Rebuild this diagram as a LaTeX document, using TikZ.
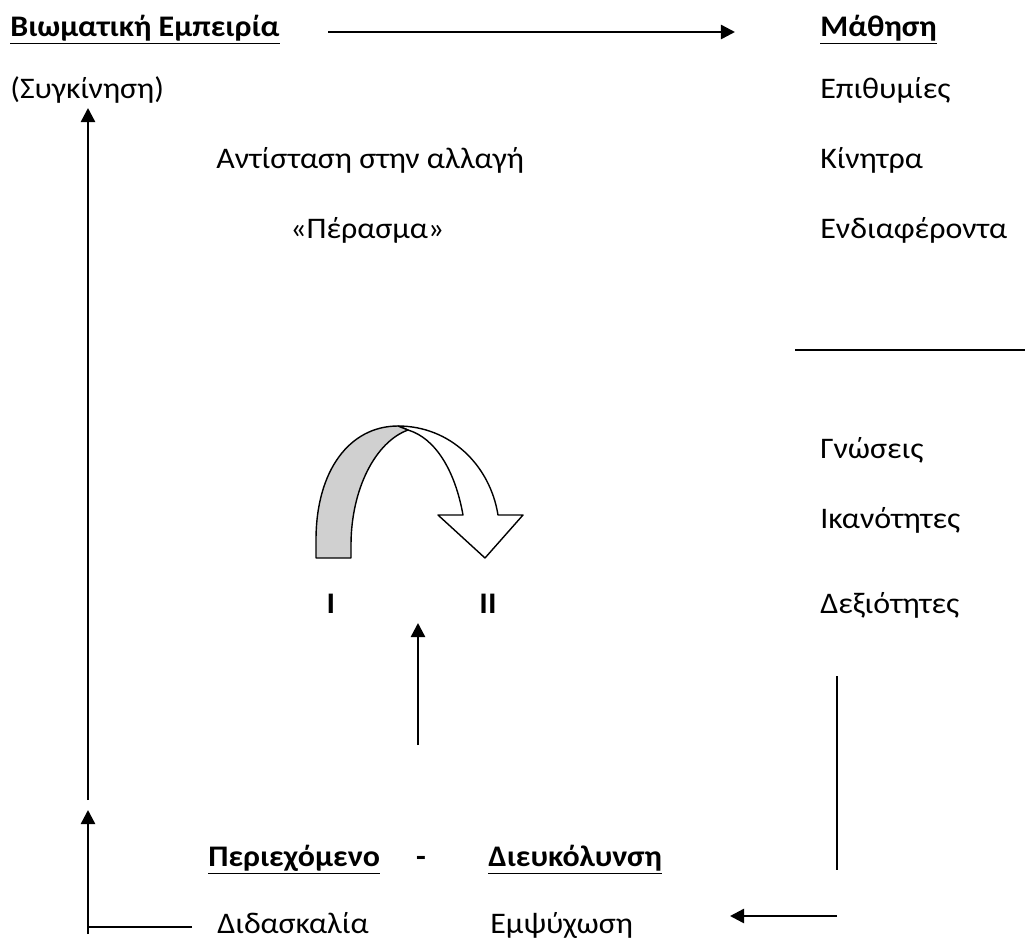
\documentclass[tikz,border=0pt]{standalone}
\usepackage{fontspec}
\setmainfont{Carlito}[FakeStretch=1.07]
\usetikzlibrary{arrows.meta}
\definecolor{bandgray}{HTML}{D0D0D0}

\begin{document}
\begin{tikzpicture}[
    x=0.02cm, y=-0.02cm,
    txt/.style={inner sep=0pt, anchor=base west, font=\fontsize{17}{20}\selectfont},
    boldtxt/.style={inner sep=0pt, anchor=base west, font=\fontsize{17}{20}\selectfont\bfseries},
    flow/.style={line width=1.4pt, -{Triangle[length=8pt, width=8pt]}},
    plainline/.style={line width=1.2pt},
    arcshape/.style={draw=black, line width=0.8pt, line join=round}
]

  % frame of the page
  \useasboundingbox (0,0) rectangle (1025,940);

  % 1. Top row
  \node[boldtxt] (bioma) at (10,36) {\underline{Βιωματική Εμπειρία}};
  \node[boldtxt] (mathisi) at (820,36) {\underline{Μάθηση}};
  \coordinate (topS) at (328,32);
  \coordinate (topE) at (735,32);
  \draw[flow] (topS) -- (topE);

  % 2. Left column
  \node[txt] (sygk) at (10,98) {(Συγκίνηση)};
  \node[txt] (antist) at (216,168) {Αντίσταση στην αλλαγή};
  \node[txt] (perasma) at (290,238) {«Πέρασμα»};

  % 3. Right column
  \node[txt] (epith) at (820,98) {Επιθυμίες};
  \node[txt] (kinitra) at (820,168) {Κίνητρα};
  \node[txt] (endiaf) at (820,238) {Ενδιαφέροντα};
  \coordinate (sepL) at (795,350);
  \coordinate (sepR) at (1025,350);
  \draw[plainline] (sepL) -- (sepR);
  \node[txt] (gnoseis) at (820,458) {Γνώσεις};
  \node[txt] (ikanot) at (820,528) {Ικανότητες};
  \node[txt] (dexiot) at (820,613) {Δεξιότητες};

  % 4. Curved arrow  I -> II
  \path[arcshape, fill=white] (398,426) .. controls (450,426) and (490,465) .. (498,515)
    -- (523,515) -- (485,558) -- (438,515) -- (463,515)
    .. controls (455,470) and (435,438) .. (408,430) -- cycle;
  \path[arcshape, fill=bandgray] (316,558) -- (316,540) .. controls (316,470) and (350,426) .. (398,426)
    -- (408,430) .. controls (375,442) and (351,490) .. (351,545) -- (351,558) -- cycle;
  \node[boldtxt, anchor=base] (one) at (331,613) {I};
  \node[boldtxt, anchor=base] (two) at (488,613) {II};

  % 5. Vertical arrows
  \coordinate (midS) at (418,745);
  \coordinate (midE) at (418,623);
  \draw[flow] (midS) -- (midE);
  \coordinate (leftS) at (88,800);
  \coordinate (leftE) at (88,108);
  \draw[flow] (leftS) -- (leftE);

  % 6. Bottom rows
  \node[boldtxt] (periex) at (208,866) {\underline{Περιεχόμενο}};
  \node[boldtxt, anchor=base] (dash) at (421,866) {-};
  \node[boldtxt] (dieuk) at (488,866) {\underline{Διευκόλυνση}};
  \node[txt] (didask) at (217,933) {Διδασκαλία};
  \node[txt] (empsych) at (490,933) {Εμψύχωση};

  % 7. Return path
  \coordinate (rTop) at (837,676);
  \coordinate (rBot) at (837,870);
  \draw[plainline] (rTop) -- (rBot);
  \coordinate (rArrS) at (837,916);
  \coordinate (rArrE) at (730,916);
  \draw[flow] (rArrS) -- (rArrE);
  \coordinate (lCorner) at (88,927);
  \coordinate (lEnd) at (192,927);
  \coordinate (lFoot) at (88,934);
  \coordinate (lTip) at (88,810);
  \draw[plainline] (lEnd) -- (lCorner);
  \draw[flow] (lFoot) -- (lTip);

\end{tikzpicture}
\end{document}
